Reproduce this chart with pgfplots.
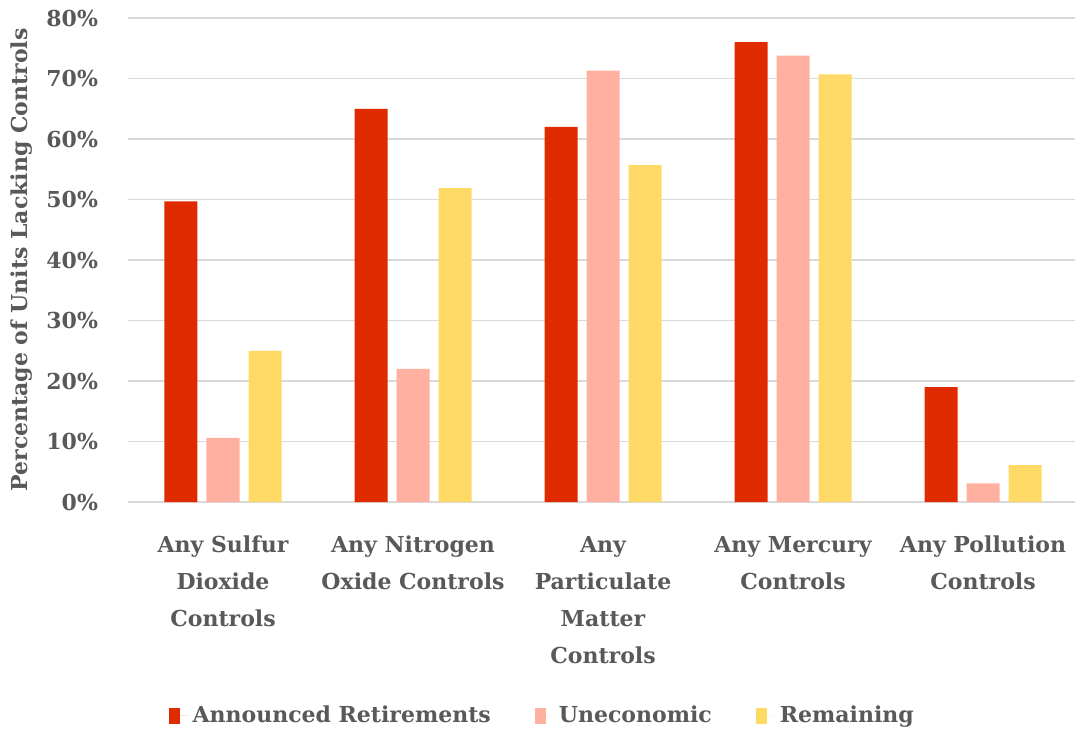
\documentclass[border=0pt]{standalone}
\usepackage{pgfplots}
\pgfplotsset{compat=1.18}
\usepackage{fontspec}
\setmainfont{DejaVu Serif}
\definecolor{txt}{HTML}{595959}
\definecolor{gridc}{HTML}{D9D9D9}
\definecolor{cRet}{HTML}{E02B00}
\definecolor{cUne}{HTML}{FFB0A0}
\definecolor{cRem}{HTML}{FFD966}
\begin{document}
\begin{tikzpicture}
\path[use as bounding box] (-64pt,-114pt) rectangle (473.5pt,251pt);
\begin{axis}[
  at={(0,0)}, anchor=south west,
  scale only axis, width=475pt, height=242pt,
  ybar=4.5pt, bar width=16.5pt,
  xmin=-0.5, xmax=4.5, ymin=0, ymax=80,
  xtick={0,1,2,3,4},
  xticklabels={{Any Sulfur\\Dioxide\\Controls},{Any Nitrogen\\Oxide Controls},{Any\\Particulate\\Matter\\Controls},{Any Mercury\\Controls},{Any Pollution\\Controls}},
  ytick={0,10,...,80},
  yticklabel={\pgfmathprintnumber{\tick}\%},
  /pgf/number format/assume math mode=true,
  axis line style={draw=none},
  major tick length=0pt,
  ymajorgrids, grid style={gridc, line width=0.8pt},
  font=\bfseries\fontsize{11}{18.5}\selectfont,
  every tick label/.append style={text=txt},
  x tick label style={align=center, yshift=-13.5pt},
  y tick label style={xshift=-11.5pt},
  ylabel={Percentage of Units Lacking Controls},
  y label style={at={(axis description cs:-0.112,0.5)}, anchor=center, text=txt},
  legend columns=3,
  legend style={draw=none, at={(axis description cs:0.437,-0.442)}, anchor=center,
    text=txt, /tikz/every even column/.append style={column sep=20pt}},
  legend image code/.code={\fill[#1] (0pt,-4pt) rectangle (5.5pt,4pt);
    \path (0pt,0pt) -- (10pt,0pt);},
]
\addplot[fill=cRet, draw=none] coordinates {(0,49.7) (1,65.0) (2,62.0) (3,76.0) (4,19.0)};
\addplot[fill=cUne, draw=none] coordinates {(0,10.6) (1,22.0) (2,71.3) (3,73.8) (4,3.1)};
\addplot[fill=cRem, draw=none] coordinates {(0,25.0) (1,51.9) (2,55.7) (3,70.7) (4,6.1)};
\legend{Announced Retirements, Uneconomic, Remaining}
\end{axis}
\end{tikzpicture}
\end{document}
